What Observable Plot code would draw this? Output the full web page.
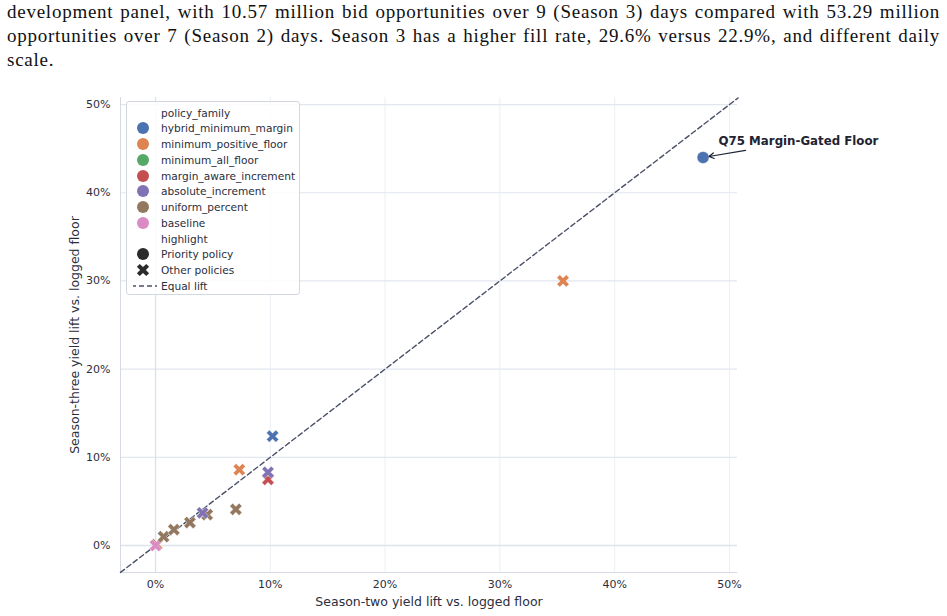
<!DOCTYPE html>
<html>
<head>
<meta charset="utf-8">
<script src="https://cdn.jsdelivr.net/npm/d3@7"></script>
<script src="https://cdn.jsdelivr.net/npm/@observablehq/plot@0.6"></script>
<style>
  html, body { margin: 0; padding: 0; background: #fff; }
  #page { position: relative; width: 947px; height: 616px; overflow: hidden; }
  .para { position: absolute; left: 7px; width: 933px; font-family: "Liberation Serif", serif; font-size: 19px; letter-spacing: 0.75px; line-height: 23.5px; color: #111; white-space: nowrap; }
  .just { text-align: justify; text-align-last: justify; white-space: normal; }
  #chart { position: absolute; left: 0; top: 85px; }
  #legend { position: absolute; left: 126px; top: 101px; width: 172px; height: 192px; border: 1px solid #d3d7df; border-radius: 3px; background: rgba(255,255,255,0.85); font-family: "DejaVu Sans", sans-serif; font-size: 10.6px; color: #2a2e3d; }
  .lrow { position: absolute; left: 0; height: 14px; line-height: 14px; white-space: nowrap; }
  .lrow svg { position: absolute; left: 6px; top: -1px; }
  .lrow span { position: absolute; left: 34px; top: 0; }
</style>
</head>
<body>
<div id="page">
  <div class="para just" style="top:0px">development panel, with 10.57 million bid opportunities over 9 (Season 3) days compared with 53.29 million</div>
  <div class="para just" style="top:23.5px">opportunities over 7 (Season 2) days. Season 3 has a higher fill rate, 29.6% versus 22.9%, and different daily</div>
  <div class="para" style="top:47.5px">scale.</div>
  <div id="chart"></div>
  <div id="legend"></div>
</div>
<script>
// ---- data ----
const families = ["hybrid_minimum_margin","minimum_positive_floor","minimum_all_floor","margin_aware_increment","absolute_increment","uniform_percent","baseline"];
const familyColors = ["#4C72B0","#DD8452","#55A868","#C44E52","#8172B3","#937860","#DA8BC3"];
const highlightLevels = ["Priority policy","Other policies"];

const pointFamily = ["minimum_positive_floor","baseline","uniform_percent","uniform_percent","uniform_percent","uniform_percent","absolute_increment","uniform_percent","minimum_positive_floor","margin_aware_increment","absolute_increment","hybrid_minimum_margin","minimum_positive_floor","hybrid_minimum_margin"];
const seasonTwoLift   = [0.1, 0.0, 0.7, 1.6, 3.0, 4.5, 4.1, 7.0, 7.3, 9.8, 9.8, 10.2, 35.5, 47.7];
const seasonThreeLift = [0.1, 0.0, 1.0, 1.8, 2.6, 3.5, 3.7, 4.1, 8.6, 7.5, 8.3, 12.4, 30.0, 44.0];
const pointHighlight  = ["Other policies","Other policies","Other policies","Other policies","Other policies","Other policies","Other policies","Other policies","Other policies","Other policies","Other policies","Other policies","Other policies","Priority policy"];

const xTicks = [0, 10, 20, 30, 40, 50];
const yTicks = [0, 10, 20, 30, 40, 50];
const xDomain = [-3.05, 50.7];
const yDomain = [-3.06, 50.8];
const equalLift = [-3.05, 50.75];

const annotationLabel = "Q75 Margin-Gated Floor";
const annotationText = [49.05, 45.8];
const annotationArrowStart = [51.4, 44.8];

// ---- build ----
const points = pointFamily.map((f, i) => ({family: f, s2: seasonTwoLift[i], s3: seasonThreeLift[i], highlight: pointHighlight[i]}));
const priority = points.filter(d => d.highlight === "Priority policy")[0];
const diag = equalLift.map(v => ({x: v, y: v}));

// filled "X" marker like matplotlib
const filledX = {
  draw(context, size) {
    const r = Math.sqrt(size / Math.PI);
    const L = r * 1.1, w = r * 0.34;
    const pts = [[w,L],[w,w],[L,w],[L,-w],[w,-w],[w,-L],[-w,-L],[-w,-w],[-L,-w],[-L,w],[-w,w],[-w,L]]
      .map(([x, y]) => [(x - y) / Math.SQRT2, (x + y) / Math.SQRT2]);
    context.moveTo(pts[0][0], pts[0][1]);
    for (let i = 1; i < pts.length; i++) context.lineTo(pts[i][0], pts[i][1]);
    context.closePath();
  }
};

const textColor = "#2a2e3d";
const chart = Plot.plot({
  width: 947,
  height: 531,
  marginLeft: 120,
  marginRight: 210,
  marginTop: 12,
  marginBottom: 44,
  style: {fontFamily: "DejaVu Sans, sans-serif", color: textColor, background: "transparent", overflow: "visible"},
  x: {domain: xDomain},
  y: {domain: yDomain},
  color: {domain: families, range: familyColors},
  symbol: {domain: highlightLevels, range: ["circle", filledX]},
  marks: [
    Plot.gridX(xTicks, {stroke: "#eceef4", strokeOpacity: 1, strokeWidth: 1}),
    Plot.gridY(yTicks, {stroke: "#e2e6ef", strokeOpacity: 1, strokeWidth: 1.2}),
    Plot.ruleX([0], {stroke: "#dde2ec", strokeWidth: 1.4}),
    Plot.ruleY([0], {stroke: "#dde2ec", strokeWidth: 1.4}),
    Plot.ruleX([xDomain[0]], {stroke: "#d5d9e2", strokeWidth: 1}),
    Plot.ruleY([yDomain[0]], {stroke: "#d5d9e2", strokeWidth: 1}),
    Plot.axisX(xTicks, {tickSize: 0, tickPadding: 8, fontSize: 11, tickFormat: d => d + "%", label: null, fill: textColor}),
    Plot.axisY(yTicks, {tickSize: 0, tickPadding: 10, fontSize: 11, tickFormat: d => d + "%", label: null, fill: textColor}),
    Plot.text(["Season-two yield lift vs. logged floor"], {frameAnchor: "bottom", dy: 33, fontSize: 12.5, fill: textColor}),
    Plot.text(["Season-three yield lift vs. logged floor"], {frameAnchor: "left", textAnchor: "middle", dx: -46, rotate: -90, fontSize: 12.5, fill: textColor}),
    Plot.line(diag, {x: "x", y: "y", stroke: "#4a5068", strokeWidth: 1.4, strokeDasharray: "5,3"}),
    Plot.dot(points, {x: "s2", y: "s3", fill: "family", symbol: "highlight", r: 6, stroke: "white", strokeWidth: 0.4}),
    Plot.arrow([priority], {x1: () => annotationArrowStart[0], y1: () => annotationArrowStart[1], x2: "s2", y2: "s3", stroke: "#1f2333", strokeWidth: 1.2, headLength: 7, insetEnd: 6, bend: 0}),
    Plot.text([priority], {x: () => annotationText[0], y: () => annotationText[1], text: () => annotationLabel, textAnchor: "start", fontWeight: "bold", fontSize: 11.8, fill: "#1f2333"})
  ]
});
document.getElementById("chart").appendChild(chart);

// ---- legend ----
const legend = document.getElementById("legend");
const rows = [];
rows.push({label: "policy_family", marker: null});
families.forEach((f, i) => rows.push({label: f, marker: "circle", color: familyColors[i]}));
rows.push({label: "highlight", marker: null});
rows.push({label: highlightLevels[0], marker: "circle", color: "#2b2b2b"});
rows.push({label: highlightLevels[1], marker: "x", color: "#2b2b2b"});
rows.push({label: "Equal lift", marker: "dash", color: "#4a5068"});
const xPath = (() => { const p = d3.path(); filledX.draw(p, Math.PI * 36); return p.toString(); })();
rows.forEach((r, i) => {
  const div = document.createElement("div");
  div.className = "lrow";
  div.style.top = (10.7 + i * 15.75 - 7) + "px";
  let svg = "";
  if (r.marker === "circle") svg = `<svg width="20" height="16"><circle cx="10" cy="8" r="6" fill="${r.color}"/></svg>`;
  else if (r.marker === "x") svg = `<svg width="20" height="16"><path transform="translate(10,8)" d="${xPath}" fill="${r.color}"/></svg>`;
  else if (r.marker === "dash") svg = `<svg width="26" height="16"><line x1="-2" x2="24" y1="8" y2="8" stroke="${r.color}" stroke-width="1.4" stroke-dasharray="5,3"/></svg>`;
  div.innerHTML = svg + `<span>${r.label}</span>`;
  legend.appendChild(div);
});
</script>
</body>
</html>
